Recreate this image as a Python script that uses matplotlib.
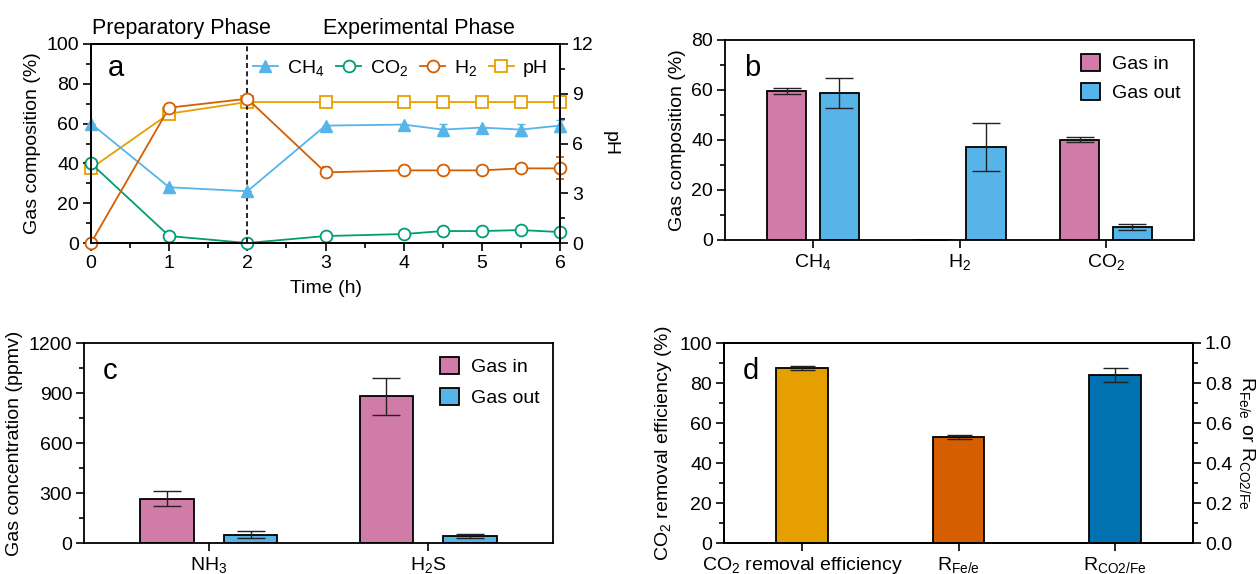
import numpy as np
import matplotlib
matplotlib.use("Agg")
import matplotlib.pyplot as plt
from matplotlib.ticker import MultipleLocator
from matplotlib.lines import Line2D

plt.rcParams['font.family'] = ['Liberation Sans', 'DejaVu Sans']
plt.rcParams['mathtext.fontset'] = 'custom'
plt.rcParams['mathtext.rm'] = 'Liberation Sans'
plt.rcParams['mathtext.it'] = 'Liberation Sans:italic'
plt.rcParams['mathtext.default'] = 'regular'
plt.rcParams['axes.linewidth'] = 1.3

# ---- panel a data ----
time_h = [0, 1, 2, 3, 4, 4.5, 5, 5.5, 6]
ch4 = [60, 28, 26, 59, 59.5, 57, 58, 57, 59]
ch4_err = [0, 0, 0, 0, 0, 3, 0, 3, 3]
co2 = [40, 3.5, 0, 3.5, 4.5, 6, 6, 6.5, 5.5]
h2 = [0, 68, 72.5, 35.5, 36.5, 36.5, 36.5, 37.5, 37.5]
h2_err = [0, 0, 1.5, 2.5, 0, 0, 0, 0, 5.5]
ph = [4.5, 7.8, 8.5, 8.5, 8.5, 8.5, 8.5, 8.5, 8.5]

# ---- panel b data ----
gases_b = ['CH$_4$', 'H$_2$', 'CO$_2$']
b_in = [59.6, 0, 40.2]
b_in_err = [1.2, 0, 1.0]
b_out = [59.0, 37.3, 5.4]
b_out_err = [6.0, 9.5, 1.2]

# ---- panel c data ----
gases_c = ['NH$_3$', 'H$_2$S']
c_in = [265, 880]
c_in_err = [45, 110]
c_out = [50, 42]
c_out_err = [22, 14]

# ---- panel d data ----
d_labels = ['CO$_2$ removal efficiency', 'R$_{Fe/e}$', 'R$_{CO2/Fe}$']
co2_eff = 87.5
co2_eff_err = 1.2
r_vals = [0.53, 0.84]
r_err = [0.012, 0.033]

c_pink = '#D17BA8'
c_lblue = '#56B4E9'
c_green = '#009E73'
c_red = '#D55E00'
c_orange = '#E69F00'
c_blue = '#0072B2'

FS = 14

fig = plt.figure(figsize=(12.58, 5.74), dpi=100)
W, H = 1258, 574


def place(x0, y0, x1, y1):
    return fig.add_axes([x0 / W, 1 - y1 / H, (x1 - x0) / W, (y1 - y0) / H])


def style(ax):
    ax.tick_params(labelsize=FS, length=6, width=1.2, direction='out', pad=2.5)
    ax.tick_params(which='minor', length=3.5, width=1.2)


# ===== a =====
ax = place(91, 44, 560, 243)
ax2 = ax.twinx()
ax.set_zorder(ax2.get_zorder() + 1)
ax.patch.set_visible(False)
ax2.plot(time_h, ph, '-s', color=c_orange, mfc='white', mec=c_orange,
         ms=9, lw=1.3, mew=1.3, clip_on=False)
ax.errorbar(time_h, ch4, yerr=ch4_err, fmt='-^', color=c_lblue, ms=8.5,
            lw=1.3, capsize=3, elinewidth=1.2, clip_on=False)
ax.plot(time_h, co2, '-o', color=c_green, mfc='white', ms=8.5, lw=1.3, mew=1.3,
        clip_on=False)
ax.errorbar(time_h, h2, yerr=h2_err, fmt='-o', color=c_red, mfc='white',
            ms=8.5, lw=1.3, mew=1.3, capsize=3, clip_on=False)
ax.axvline(2, color='black', ls='--', lw=1.2, dashes=(3, 2))
ax.set_xlim(0, 6)
ax.set_ylim(0, 100)
ax2.set_ylim(0, 12)
ax.xaxis.set_minor_locator(MultipleLocator(0.5))
ax.yaxis.set_major_locator(MultipleLocator(20))
ax.yaxis.set_minor_locator(MultipleLocator(10))
ax2.yaxis.set_major_locator(MultipleLocator(3))
ax2.yaxis.set_minor_locator(MultipleLocator(1.5))
style(ax)
style(ax2)
ax.set_xlabel('Time (h)', fontsize=FS, labelpad=6)
ax.set_ylabel('Gas composition (%)', fontsize=FS)
ax2.set_ylabel('pH', fontsize=FS, rotation=270, labelpad=18)
ax.text(0.035, 0.84, 'a', transform=ax.transAxes, fontsize=21)
ax.text(1.16, 102.5, 'Preparatory Phase', ha='center', va='bottom', fontsize=15.5)
ax.text(4.2, 102.5, 'Experimental Phase', ha='center', va='bottom', fontsize=15.5)
handles = [
    Line2D([], [], color=c_lblue, marker='^', ms=8.5, lw=1.3),
    Line2D([], [], color=c_green, marker='o', mfc='white', ms=8.5, lw=1.3, mew=1.3),
    Line2D([], [], color=c_red, marker='o', mfc='white', ms=8.5, lw=1.3, mew=1.3),
    Line2D([], [], color=c_orange, marker='s', mfc='white', ms=9, lw=1.3, mew=1.3),
]
ax.legend(handles, ['CH$_4$', 'CO$_2$', 'H$_2$', 'pH'],
          loc='upper left', bbox_to_anchor=(0.32, 0.99), ncol=4, frameon=False,
          fontsize=FS, handlelength=1.3, columnspacing=0.6, handletextpad=0.45,
          borderaxespad=0.2)

# ===== b =====
ax = place(725, 40, 1194, 240)
x = np.arange(len(gases_b))
ekw = dict(elinewidth=1.0, capthick=1.0, ecolor='#222222')
ax.bar(x - 0.18, b_in, 0.27, yerr=b_in_err, color=c_pink, edgecolor='black',
       lw=1.3, capsize=10, error_kw=ekw, label='Gas in')
ax.bar(x + 0.18, b_out, 0.27, yerr=b_out_err, color=c_lblue, edgecolor='black',
       lw=1.3, capsize=10, error_kw=ekw, label='Gas out')
ax.set_xlim(-0.6, 2.6)
ax.set_ylim(0, 80)
ax.set_xticks(x)
ax.set_xticklabels(gases_b)
ax.yaxis.set_major_locator(MultipleLocator(20))
ax.yaxis.set_minor_locator(MultipleLocator(10))
style(ax)
ax.set_ylabel('Gas composition (%)', fontsize=FS)
ax.text(0.04, 0.82, 'b', transform=ax.transAxes, fontsize=21)
ax.legend(loc='upper right', frameon=False, fontsize=FS, handlelength=1.0,
          handleheight=1.0, handletextpad=0.6, borderaxespad=0.3)

# ===== c =====
ax = place(84, 343, 553, 543)
x = np.arange(len(gases_c))
ax.bar(x - 0.19, c_in, 0.245, yerr=c_in_err, color=c_pink, edgecolor='black',
       lw=1.3, capsize=10, error_kw=ekw, label='Gas in')
ax.bar(x + 0.19, c_out, 0.245, yerr=c_out_err, color=c_lblue, edgecolor='black',
       lw=1.3, capsize=10, error_kw=ekw, label='Gas out')
ax.set_xlim(-0.57, 1.57)
ax.set_ylim(0, 1200)
ax.set_xticks(x)
ax.set_xticklabels(gases_c)
ax.yaxis.set_major_locator(MultipleLocator(300))
ax.yaxis.set_minor_locator(MultipleLocator(150))
style(ax)
ax.set_ylabel('Gas concentration (ppmv)', fontsize=FS)
ax.text(0.04, 0.82, 'c', transform=ax.transAxes, fontsize=21)
ax.legend(loc='upper right', frameon=False, fontsize=FS, handlelength=1.0,
          handleheight=1.0, handletextpad=0.6, borderaxespad=0.3, labelspacing=0.6)

# ===== d =====
ax = place(724, 343, 1193, 543)
ax2 = ax.twinx()
ax.bar([0], [co2_eff], 0.33, yerr=[co2_eff_err], color=c_orange, edgecolor='black',
       lw=1.3, capsize=9, error_kw=ekw)
ax2.bar([1, 2], r_vals, 0.33, yerr=r_err, color=[c_red, c_blue], edgecolor='black',
        lw=1.3, capsize=9, error_kw=ekw)
ax.set_xlim(-0.5, 2.5)
ax.set_ylim(0, 100)
ax2.set_ylim(0, 1.0)
ax.set_xticks([0, 1, 2])
ax.set_xticklabels(d_labels)
ax.yaxis.set_major_locator(MultipleLocator(20))
ax.yaxis.set_minor_locator(MultipleLocator(10))
ax2.yaxis.set_major_locator(MultipleLocator(0.2))
ax2.yaxis.set_minor_locator(MultipleLocator(0.1))
ax2.yaxis.set_major_formatter(matplotlib.ticker.FormatStrFormatter('%.1f'))
style(ax)
style(ax2)
ax.set_ylabel('CO$_2$ removal efficiency (%)', fontsize=FS)
ax2.set_ylabel('R$_{Fe/e}$ or R$_{CO2/Fe}$', fontsize=FS, rotation=270, labelpad=18)
ax.text(0.04, 0.82, 'd', transform=ax.transAxes, fontsize=21)

fig.savefig('out.png', dpi=100)
